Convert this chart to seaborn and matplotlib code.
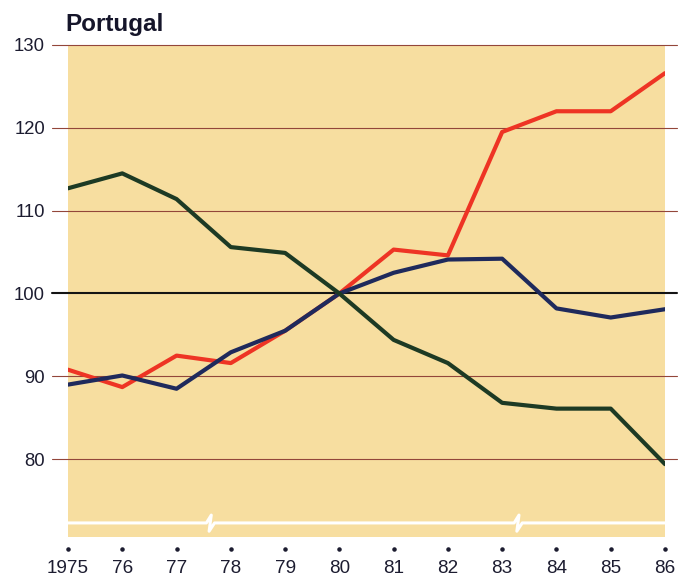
import numpy as np
import pandas as pd
import matplotlib.pyplot as plt
import matplotlib.transforms as mtransforms
import seaborn as sns

years = list(range(1975, 1987))
year_labels = ['1975', '76', '77', '78', '79', '80', '81', '82', '83', '84', '85', '86']
red_vals = [90.8, 88.7, 92.5, 91.6, 95.5, 100.0, 105.3, 104.6, 119.5, 122.0, 122.0, 126.6]
blue_vals = [89.0, 90.1, 88.5, 92.9, 95.5, 100.0, 102.5, 104.1, 104.2, 98.2, 97.1, 98.1]
green_vals = [112.7, 114.5, 111.4, 105.6, 104.9, 100.0, 94.4, 91.6, 86.8, 86.1, 86.1, 79.4]
y_ticks = [80, 90, 100, 110, 120, 130]

df = pd.DataFrame({
    'year': years * 3,
    'value': red_vals + blue_vals + green_vals,
    'series': ['red'] * 12 + ['blue'] * 12 + ['green'] * 12,
})
palette = {'red': '#ee3424', 'blue': '#1f2a5c', 'green': '#1d3a24'}

sns.set_style('white')
plt.rcParams['font.family'] = ['Liberation Sans', 'DejaVu Sans']

fig = plt.figure(figsize=(6.78, 5.79), dpi=100)
ax = fig.add_axes([0.1003, 0.0725, 0.8805, 0.8498])
ax.set_facecolor('#f7dea0')

# grid lines run a bit past the shaded panel on both sides
for y in y_ticks:
    if y == 100:
        ax.axhline(y, xmin=-0.026, xmax=1.02, color='#141414', lw=1.5,
                   clip_on=False, zorder=2)
    else:
        ax.axhline(y, xmin=-0.026, xmax=1.02, color='#93463a', lw=0.8,
                   clip_on=False, zorder=1)

sns.lineplot(data=df, x='year', y='value', hue='series', palette=palette,
             linewidth=3.0, legend=False, ax=ax, zorder=3)

ax.set_xlim(1975, 1986)
ax.set_ylim(70.6, 130)
for s in ax.spines.values():
    s.set_visible(False)

# white axis-break strip near the bottom
yb = 72.3
bx = [1975, 1977.55, 1977.64, 1977.6, 1977.7, 1983.22, 1983.31, 1983.27, 1983.37, 1986]
by = [yb, yb, yb + 0.95, yb - 1.0, yb, yb, yb + 0.95, yb - 1.0, yb, yb]
ax.plot(bx, by, color='white', lw=2.2, zorder=2)

ax.set_yticks(y_ticks)
ax.set_yticklabels([str(v) for v in y_ticks])
ax.set_xticks(years)
ax.set_xticklabels(year_labels)
ax.tick_params(axis='y', length=0, pad=16.5, labelsize=13.3, labelcolor='#1c1c30')
ax.tick_params(axis='x', length=0, pad=16.5, labelsize=13.6, labelcolor='#1c1c30')
ax.set_xlabel('')
ax.set_ylabel('')

trans = mtransforms.blended_transform_factory(ax.transData, ax.transAxes)
ax.scatter(years, [-0.025] * len(years), s=5, color='#1c1c30',
           transform=trans, clip_on=False, zorder=4)

fig.text(0.096, 0.957, 'Portugal', fontsize=17.5, fontweight='bold',
         color='#15152a', ha='left', va='center')

fig.savefig('out.png', dpi=100, facecolor='white')
